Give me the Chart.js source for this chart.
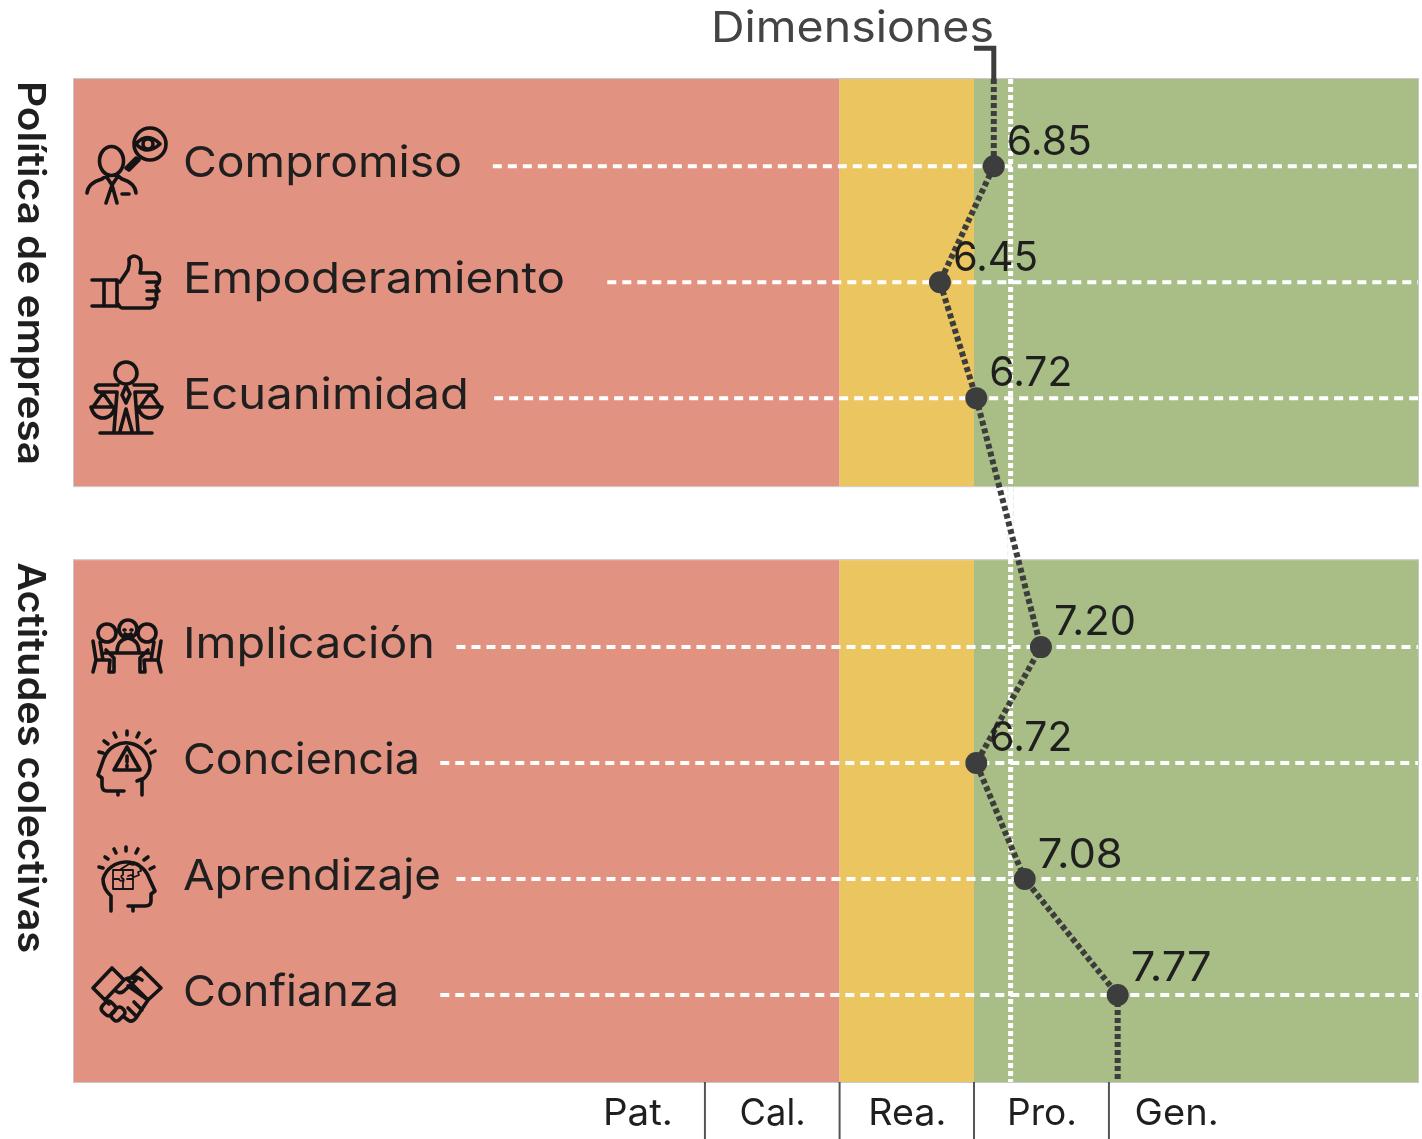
<!DOCTYPE html>
<html>
<head>
<meta charset="utf-8">
<title>Dimensiones</title>
<script src="https://cdn.jsdelivr.net/npm/chart.js@4/dist/chart.umd.min.js"></script>
<style>
  html, body { margin: 0; padding: 0; background: #fff; }
  canvas { display: block; }
</style>
</head>
<body>
<canvas id="chart" width="1422" height="1139"></canvas>
<script>
// Data
const categories = ['Compromiso', 'Empoderamiento', 'Ecuanimidad', 'Implicación', 'Conciencia', 'Aprendizaje', 'Confianza'];
const values = [6.85, 6.45, 6.72, 7.20, 6.72, 7.08, 7.77];
const valueLabels = ['6.85', '6.45', '6.72', '7.20', '6.72', '7.08', '7.77'];
const rowPositions = [0, 1, 2, 4.147, 5.147, 6.147, 7.147];
const guideStarts = [3.13, 3.98, 3.14, 2.86, 2.74, 2.86, 2.74];
const groupNames = ['Política de empresa', 'Actitudes colectivas'];
const groupRanges = [[-0.752, 2.759], [3.397, 7.897]];
const bandEdges = [0.02, 5.705, 6.703, 10];
const bandColors = ['#e29280', '#ebc55f', '#a9be86'];
const tickLabels = ['Pat.', 'Cal.', 'Rea.', 'Pro.', 'Gen.'];
const tickCentres = [4.2, 5.2, 6.2, 7.2, 8.2];
const tickEdges = [4.705, 5.705, 6.703, 7.705];
const meanValue = 6.975;
const bracketTop = -1.017;

// Widths of the texts, the font here is narrower than the original one
const categoryWidths = [279, 382, 286, 252, 237, 258, 216];
const valueWidths = [85, 85, 83, 82, 83, 85, 81];
const valueLifts = [11, 11, 12, 12, 12, 11, 14];
const groupWidths = [384, 391];
const tickWidths = [70, 66, 78, 70, 84];

const FONT = 'Inter, "Open Sans", sans-serif';
const INK = '#1f1f1f';
const LINE = '#3d3d3d';

// Icons as svg paths, in page pixels
const iconPaths = [
  // Compromiso
  'M99.5 161a12 14.5 0 1 0 24 0a12 14.5 0 1 0 -24 0 M134 144a16 16 0 1 0 32 0a16 16 0 1 0 -32 0 M136 144q11 -13 24 0q-13 12 -24 0 M143 144a5 5 0 1 0 10 0a5 5 0 1 0 -10 0 M126 168l10 -10l3 2l-10 10z M87 193q1 -10 15 -14l4 -3l6 9l6 -9l4 3q13 4 14 14 M112 185l-6 18 M112 185l5 18 M122 194h7',
  // Empoderamiento
  'M92 280h25 M92 306h25 M104 280h13v26h-13z M120 282l8 -12q2 -6 1 -11q5 -6 11 0q2 6 0 14h16q5 3 3 9q-2 3 -3 4q3 4 0 8q2 5 -1 7q1 6 -5 7h-27q-3 0 -5 -4 M147 282h12 M147 291h12 M147 299h10',
  // Ecuanimidad
  'M115 373a11 11 0 1 0 22 0a11 11 0 1 0 -22 0 M118 385h-20q-5 3 0 7h19l-3 39 M134 385h20q5 3 0 7h-19l3 39 M120 431l6 -22l6 22 M126 386l-4 9l4 8l4 -9z M100 433h52 M103 393l-10 14 M103 393l10 14 M91 407h24q-3 11 -12 11q-9 0 -12 -11z M150 393l-10 14 M150 393l10 14 M138 407h24q-3 11 -12 11q-9 0 -12 -11z',
  // Implicacion
  'M98 633a9 9 0 1 0 18 0a9 9 0 1 0 -18 0 M119 629a9 9 0 1 0 18 0a9 9 0 1 0 -18 0 M138 633a9 9 0 1 0 18 0a9 9 0 1 0 -18 0 M117 652q0 -12 11 -14q11 2 11 14 M105 653h44 M93 641l3 19l-3 12 M96 660h6 M161 641l-3 19l3 12 M158 660h-6 M100 642l3 18h7l-1 12h5v-14l-8 -8 M154 642l-3 18h-7l1 12h-5v-14l8 -8 M124 630h1 M131 630h1 M125 634q3 2 6 0',
  // Conciencia
  'M142 795v-15q8 -6 8 -14a24 25 0 0 0 -46 -8l-6 17l4 3v7q0 6 5 6h17 M118 791v4 M137 781l5 -2 M127 747l-13 23h26z M127 756v6 M127 765v2 M99 752l4 1 M104 741l4 3 M114 733l2 4 M127 731v4 M139 733l-2 4 M150 740l-4 3 M155 751l-4 2',
  // Aprendizaje
  'M111 911v-15q-8 -7 -8 -17a24 23 0 0 1 46 -1l6 13l-4 3v7q0 5 -6 5h-17 M133 906v5 M99 867l4 1 M105 857l3 2 M114 849l2 4 M126 847v4 M138 849l-2 4 M148 857l-4 3 M154 867l-4 2',
  // Confianza
  'M93 988l19 -20l12 12l-19 20z M161 988l-20 -20l-13 12l20 20z M124 980q4 -3 8 -2l4 2l-12 11q-5 4 -9 -1 M132 978l5 -1l5 3 M128 986l20 14 M105 1000l4 4 M148 1000l-12 18q-4 5 -8 2l-4 -3 M103 1005l3 -3q3 -2 6 1l3 3q2 3 -1 6l-3 3q-3 2 -6 -1l-3 -3q-2 -3 1 -6z M112 1013l5 -5q3 -2 5 0l2 2q2 3 0 5l-5 5q-3 2 -5 0l-2 -2q-2 -3 0 -5z M134 1002l8 8 M128 1008l8 8'
];
// puzzle in the Aprendizaje head is drawn finer
const puzzlePath = 'M113 870h20v19h-20z M123 870v5q-3 1 -1 3q3 1 1 4v7 M113 879h6q1 3 4 1 M133 879h-6 M121 869l8 -5l4 1l1 -3l5 2l2 7l-3 1l1 3l-5 2l-3 -2l-3 1';

function rowPixel(chart, i) {
  return chart.scales.y.getPixelForValue(rowPositions[i]);
}

// Draws the text stretched to the wanted width, x is its left edge
function fitText(ctx, text, x, y, width, font, color) {
  ctx.save();
  ctx.font = font;
  ctx.fillStyle = color;
  ctx.textAlign = 'left';
  ctx.translate(x, y);
  ctx.scale(width / ctx.measureText(text).width, 1);
  ctx.fillText(text, 0, 0);
  ctx.restore();
}

// Colour bands go under the datasets
const bandsPlugin = {
  id: 'bands',
  beforeDatasetsDraw(chart) {
    const { ctx, scales: { x, y } } = chart;
    ctx.save();
    // grey rim of the white dotted line, only seen between the groups
    ctx.strokeStyle = '#dcdcdc';
    ctx.lineWidth = 6;
    ctx.setLineDash([5, 3]);
    ctx.beginPath();
    ctx.moveTo(x.getPixelForValue(meanValue), y.getPixelForValue(groupRanges[0][0]));
    ctx.lineTo(x.getPixelForValue(meanValue), y.getPixelForValue(groupRanges[1][1]));
    ctx.stroke();
    ctx.setLineDash([]);
    groupRanges.forEach(range => {
      const top = y.getPixelForValue(range[0]);
      const bottom = y.getPixelForValue(range[1]);
      ctx.strokeStyle = '#c8c8c8';
      ctx.lineWidth = 1;
      ctx.strokeRect(x.left - 0.5, top - 0.5, x.right - x.left + 1, bottom - top + 1);
      bandColors.forEach((color, i) => {
        const left = x.getPixelForValue(bandEdges[i]);
        const right = x.getPixelForValue(bandEdges[i + 1]);
        ctx.fillStyle = color;
        ctx.fillRect(left, top, right - left, bottom - top);
      });
    });
    ctx.restore();
  }
};

// All the text, separators and icons
const labelsPlugin = {
  id: 'labels',
  afterDatasetsDraw(chart) {
    const { ctx, scales: { x, y } } = chart;
    ctx.save();
    ctx.textBaseline = 'alphabetic';

    categories.forEach((name, i) => {
      const rowY = rowPixel(chart, i);
      fitText(ctx, name, 183, rowY + 11, categoryWidths[i], '400 43px ' + FONT, INK);
      const px = x.getPixelForValue(values[i]);
      fitText(ctx, valueLabels[i], px + 13, rowY - valueLifts[i], valueWidths[i], '400 41px ' + FONT, INK);
    });

    fitText(ctx, 'Dimensiones', 711, 42, 283, '400 43px ' + FONT, '#444444');

    // group titles, rotated
    groupNames.forEach((name, i) => {
      ctx.save();
      ctx.translate(18, y.getPixelForValue(groupRanges[i][0]) + 2);
      ctx.rotate(Math.PI / 2);
      fitText(ctx, name, 0, 0, groupWidths[i], '600 38px ' + FONT, INK);
      ctx.restore();
    });

    // x axis labels and separators
    ctx.strokeStyle = '#555555';
    ctx.lineWidth = 2;
    tickEdges.forEach(v => {
      const px = x.getPixelForValue(v);
      ctx.beginPath();
      ctx.moveTo(px, y.bottom);
      ctx.lineTo(px, chart.height);
      ctx.stroke();
    });
    tickLabels.forEach((label, i) => {
      const left = x.getPixelForValue(tickCentres[i]) + 1 - tickWidths[i] / 2;
      fitText(ctx, label, left, 1125, tickWidths[i], '400 37px ' + FONT, INK);
    });

    // icons
    ctx.strokeStyle = '#141414';
    ctx.lineWidth = 3.6;
    ctx.lineCap = 'round';
    ctx.lineJoin = 'round';
    iconPaths.forEach(d => ctx.stroke(new Path2D(d)));
    ctx.lineWidth = 1.8;
    ctx.stroke(new Path2D(puzzlePath));
    ctx.restore();
  }
};

// One white dashed guide per row
const guideDatasets = categories.map((name, i) => ({
  label: name + ' guía',
  data: [{ x: guideStarts[i], y: rowPositions[i] }, { x: bandEdges[3], y: rowPositions[i] }],
  showLine: true,
  borderColor: '#ffffff',
  borderWidth: 4,
  borderDash: [9, 6],
  pointRadius: 0,
  order: 3
}));

const meanDataset = {
  label: 'Media',
  data: [{ x: meanValue, y: groupRanges[0][0] }, { x: meanValue, y: groupRanges[1][1] }],
  showLine: true,
  borderColor: '#ffffff',
  borderWidth: 5,
  borderDash: [5, 3],
  pointRadius: 0,
  order: 3
};

const lastRow = values.length - 1;
const dimensionDataset = {
  label: 'Dimensiones',
  data: [
    { x: values[0], y: groupRanges[0][0] },
    ...values.map((v, i) => ({ x: v, y: rowPositions[i] })),
    { x: values[lastRow], y: groupRanges[1][1] }
  ],
  showLine: true,
  borderColor: LINE,
  borderWidth: 6,
  borderDash: [5, 3],
  pointBackgroundColor: LINE,
  pointBorderWidth: 0,
  pointRadius: ctx => (ctx.dataIndex === 0 || ctx.dataIndex === values.length + 1) ? 0 : 11,
  clip: false,
  order: 1
};

// Solid bracket that joins the title to the line
const bracketDataset = {
  label: 'Corchete',
  data: [
    { x: values[0], y: groupRanges[0][0] },
    { x: values[0], y: bracketTop },
    { x: bandEdges[2], y: bracketTop }
  ],
  showLine: true,
  borderColor: LINE,
  borderWidth: 5,
  pointRadius: 0,
  clip: false,
  order: 1
};

new Chart(document.getElementById('chart'), {
  type: 'scatter',
  data: { datasets: [...guideDatasets, meanDataset, dimensionDataset, bracketDataset] },
  options: {
    responsive: false,
    animation: false,
    devicePixelRatio: 1,
    layout: { padding: { left: 74, right: 4, top: 79, bottom: 57 } },
    plugins: { legend: { display: false }, tooltip: { enabled: false } },
    scales: {
      x: { type: 'linear', display: false, min: bandEdges[0], max: bandEdges[3] },
      y: { type: 'linear', display: false, reverse: true, min: groupRanges[0][0], max: groupRanges[1][1] }
    }
  },
  plugins: [bandsPlugin, labelsPlugin]
});
</script>
</body>
</html>
